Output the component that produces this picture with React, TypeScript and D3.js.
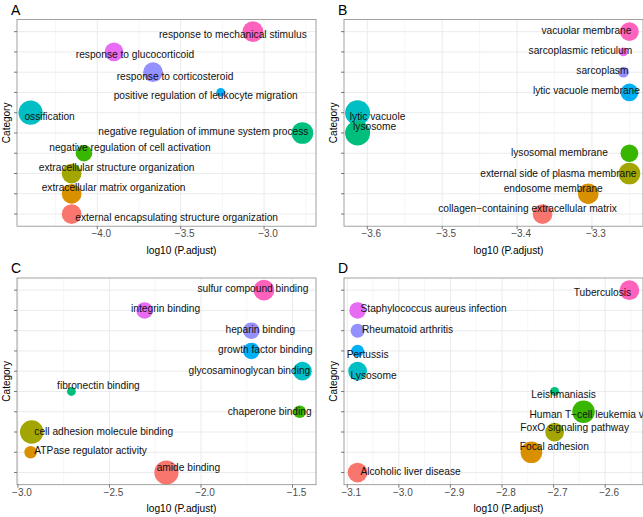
import React, { useRef, useEffect } from 'react';
import * as d3 from 'd3';

// ggplot hue palette for 10 levels, listed top category first
const hueTopDown = ['#FF62BC', '#E76BF3', '#9590FF', '#00B0F6', '#00BFC4', '#00BF7D', '#39B600', '#A3A500', '#D89000', '#F8766D'];

// A: biological process (top to bottom)
const termsA = [
  'response to mechanical stimulus',
  'response to glucocorticoid',
  'response to corticosteroid',
  'positive regulation of leukocyte migration',
  'ossification',
  'negative regulation of immune system process',
  'negative regulation of cell activation',
  'extracellular structure organization',
  'extracellular matrix organization',
  'external encapsulating structure organization',
];
const logPA = [-3.067, -3.9, -3.666, -3.26, -4.4, -2.77, -4.08, -4.154, -4.154, -4.154];
const countA = [11, 9, 10, 2, 15, 12, 7, 10, 10, 10];
// label nudges in px (text centre relative to point)
const nudgeXA = [-20, 21, 22, -15, 19, -99, 46, 45, 42, 105];
const nudgeYA = [3, 3, 4, 3.5, 3.5, -1, -6, -6, -6, 3];

// B: cellular component
const termsB = [
  'vacuolar membrane',
  'sarcoplasmic reticulum',
  'sarcoplasm',
  'lytic vacuole membrane',
  'lytic vacuole',
  'lysosome',
  'lysosomal membrane',
  'external side of plasma membrane',
  'endosome membrane',
  'collagen\u2212containing extracellular matrix',
];
const logPB = [-3.25, -3.258, -3.258, -3.25, -3.613, -3.613, -3.25, -3.25, -3.305, -3.366];
const countB = [9, 2, 3, 8, 16, 16, 8, 12, 11, 10];
const nudgeXB = [-43, -43, -21, -43, 20, 17, -70, -71, -35, -15];
const nudgeYB = [-1.5, -1, -2, -1.5, 3.5, -6, -1, 0, -5.5, -6];

// C: molecular function
const termsC = [
  'sulfur compound binding',
  'integrin binding',
  'heparin binding',
  'growth factor binding',
  'glycosaminoglycan binding',
  'fibronectin binding',
  'chaperone binding',
  'cell adhesion molecule binding',
  'ATPase regulator activity',
  'amide binding',
];
const logPC = [-1.656, -2.308, -1.725, -1.725, -1.446, -2.708, -1.461, -2.925, -2.931, -2.189];
const countC = [11, 7, 7, 7, 9, 2, 4, 14, 4, 15];
const nudgeXC = [-11, 21, 9, 14, -53, 27, -30, 72, 60, 22];
const nudgeYC = [-1.5, -1.5, -1, -1.5, -0.5, -6, 0, -1, -1.5, -5];

// D: KEGG pathways
const termsD = [
  'Tuberculosis',
  'Staphylococcus aureus infection',
  'Rheumatoid arthritis',
  'Pertussis',
  'Lysosome',
  'Leishmaniasis',
  'Human T\u2212cell leukemia virus 1 infection',
  'FoxO signaling pathway',
  'Focal adhesion',
  'Alcoholic liver disease',
];
const logPD = [-2.553, -3.08, -3.08, -3.08, -3.08, -2.698, -2.642, -2.698, -2.743, -3.08];
const countD = [10, 7, 5, 4, 9, 2, 13, 9, 12, 10];
const nudgeXD = [-27, 76, 50, 10, 16, 9, 36, 20, 23, 53];
const nudgeYD = [2.3, -1.5, -1, 3.4, 4, 3, 3, -4.3, -6, -1];

const panels = [
  { letter: 'A', col: 0, row: 0, terms: termsA, logP: logPA, count: countA, nx: nudgeXA, ny: nudgeYA },
  { letter: 'B', col: 1, row: 0, terms: termsB, logP: logPB, count: countB, nx: nudgeXB, ny: nudgeYB },
  { letter: 'C', col: 0, row: 1, terms: termsC, logP: logPC, count: countC, nx: nudgeXC, ny: nudgeYC },
  { letter: 'D', col: 1, row: 1, terms: termsD, logP: logPD, count: countD, nx: nudgeXD, ny: nudgeYD },
];

const W = 643;
const H = 517;
const cellW = 327;
const cellH = 258.5;
const font = '"Liberation Sans", Arial, Helvetica, sans-serif';

const App = () => {
  const svgRef = useRef(null);

  useEffect(() => {
    const svg = d3.select(svgRef.current);
    svg.selectAll('*').remove();

    const margin = { top: 19.5, left: 17 };
    const pw = 299;
    const ph = 206.7;

    // one size scale shared by all panels
    const r = d3.scaleSqrt().domain([0, 16]).range([0, 12.5]);

    panels.forEach(p => {
      const g = svg.append('g')
        .attr('transform', `translate(${p.col * cellW},${p.row * cellH})`);

      const [lo, hi] = d3.extent(p.logP);
      const pad = (hi - lo) * 0.05;
      const x = d3.scaleLinear()
        .domain([lo - pad, hi + pad])
        .range([margin.left, margin.left + pw]);
      const y = d3.scalePoint()
        .domain(p.terms)
        .range([margin.top, margin.top + ph])
        .padding(0.6);

      const major = x.ticks(5);
      const step = major[1] - major[0];
      const minor = [major[0] - step / 2, ...major.map(t => t + step / 2)]
        .filter(t => t > x.domain()[0] && t < x.domain()[1]);

      g.append('rect')
        .attr('x', margin.left).attr('y', margin.top)
        .attr('width', pw).attr('height', ph)
        .attr('fill', '#fff');

      // grid
      g.selectAll('.minor').data(minor).enter().append('line')
        .attr('x1', d => x(d)).attr('x2', d => x(d))
        .attr('y1', margin.top).attr('y2', margin.top + ph)
        .attr('stroke', '#F0F0F0').attr('stroke-width', 0.6);
      g.selectAll('.vmajor').data(major).enter().append('line')
        .attr('x1', d => x(d)).attr('x2', d => x(d))
        .attr('y1', margin.top).attr('y2', margin.top + ph)
        .attr('stroke', '#EBEBEB').attr('stroke-width', 1);
      g.selectAll('.hmajor').data(p.terms).enter().append('line')
        .attr('x1', margin.left).attr('x2', margin.left + pw)
        .attr('y1', d => y(d)).attr('y2', d => y(d))
        .attr('stroke', '#EBEBEB').attr('stroke-width', 1);

      const rows = p.terms.map((t, i) => ({ term: t, v: p.logP[i], n: p.count[i], col: hueTopDown[i], dx: p.nx[i], dy: p.ny[i] }));

      g.selectAll('.pt').data(rows).enter().append('circle')
        .attr('cx', d => x(d.v))
        .attr('cy', d => y(d.term))
        .attr('r', d => r(d.n))
        .attr('fill', d => d.col);

      g.selectAll('.lab').data(rows).enter().append('text')
        .attr('x', d => x(d.v) + d.dx)
        .attr('y', d => y(d.term) + d.dy)
        .attr('text-anchor', 'middle')
        .attr('dominant-baseline', 'central')
        .style('font-family', font)
        .style('font-size', '10.2px')
        .attr('fill', '#111')
        .text(d => d.term);

      g.append('rect')
        .attr('x', margin.left).attr('y', margin.top)
        .attr('width', pw).attr('height', ph)
        .attr('fill', 'none')
        .attr('stroke', '#8A8A8A').attr('stroke-width', 0.8);

      // y ticks (no labels)
      g.selectAll('.ytick').data(p.terms).enter().append('line')
        .attr('x1', margin.left - 3).attr('x2', margin.left)
        .attr('y1', d => y(d)).attr('y2', d => y(d))
        .attr('stroke', '#555').attr('stroke-width', 0.8);

      // x ticks
      const bottom = margin.top + ph;
      g.selectAll('.xtick').data(major).enter().append('line')
        .attr('x1', d => x(d)).attr('x2', d => x(d))
        .attr('y1', bottom).attr('y2', bottom + 3)
        .attr('stroke', '#555').attr('stroke-width', 0.8);
      g.selectAll('.xlab').data(major).enter().append('text')
        .attr('x', d => x(d) + 4)
        .attr('y', bottom + 11)
        .attr('text-anchor', 'middle')
        .style('font-family', font)
        .style('font-size', '10px')
        .attr('fill', '#4D4D4D')
        .text(d => d3.format('.1f')(d).replace('-', '\u2212'));

      g.append('text')
        .attr('x', margin.left + pw / 2 + 15)
        .attr('y', bottom + 27.5)
        .attr('text-anchor', 'middle')
        .style('font-family', font)
        .style('font-size', '10.2px')
        .text('log10 (P.adjust)');

      g.append('text')
        .attr('transform', `translate(9.5,${margin.top + ph / 2}) rotate(-90)`)
        .attr('text-anchor', 'middle')
        .style('font-family', font)
        .style('font-size', '10px')
        .text('Category');

      g.append('text')
        .attr('x', 11)
        .attr('y', 14.5)
        .style('font-family', font)
        .style('font-size', '14px')
        .text(p.letter);
    });
  }, []);

  return (
    <svg ref={svgRef} width={W} height={H} style={{ display: 'block', position: 'absolute', left: 0, top: 0, background: '#fff' }} />
  );
};

export default App;
